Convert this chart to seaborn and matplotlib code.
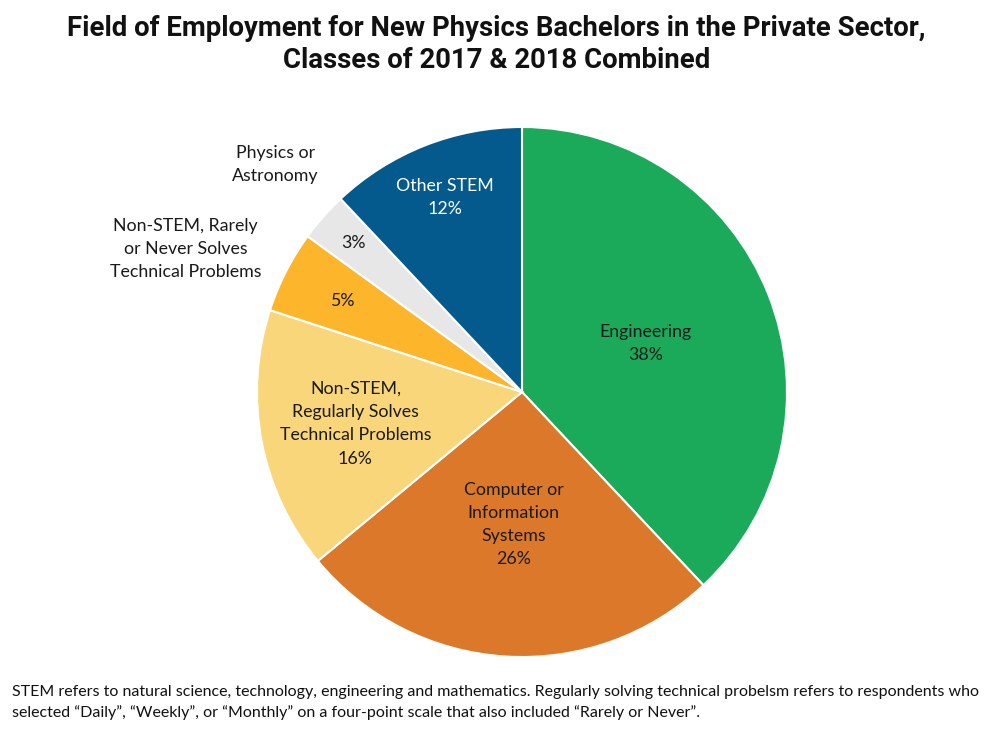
import numpy as np
import pandas as pd
import matplotlib.pyplot as plt
import seaborn as sns

sns.set_theme(style="white")
plt.rcParams['font.family'] = ['Lato', 'DejaVu Sans']

categories = ["Engineering", "Computer or\nInformation\nSystems",
              "Non-STEM,\nRegularly Solves\nTechnical Problems",
              "Non-STEM, Rarely\nor Never Solves\nTechnical Problems",
              "Physics or\nAstronomy", "Other STEM"]
shares = [38, 26, 16, 5, 3, 12]
colors = ["#1aaa5a", "#dc782a", "#fad67a", "#fdb52b", "#e6e7e6", "#045a8d"]
text_colors = ["#1a1a1a", "#1a1a1a", "#1a1a1a", "#1a1a1a", "#1a1a1a", "#ffffff"]
inside_r = [0.50, 0.50, 0.64, 0.76, 0.85, 0.79]
inside_label = [True, True, True, False, False, True]

df = pd.DataFrame({"field": categories, "share": shares})

fig = plt.figure(figsize=(9.93, 7.34), dpi=100)
W, H = 993, 734
cx, cy, R = 522, 392, 265
ax = fig.add_axes([(cx - R) / W, (H - cy - R) / H, 2 * R / W, 2 * R / H])

wedges, _ = ax.pie(df["share"], colors=colors, startangle=90, counterclock=False,
                   radius=1, wedgeprops=dict(edgecolor="white", linewidth=1.5))
ax.set_xlim(-1, 1)
ax.set_ylim(-1, 1)
ax.set_aspect("equal")
ax.axis("off")

lbl = dict(ha="center", va="center", fontsize=12.8, linespacing=1.55)
for i, w in enumerate(wedges):
    ang = np.deg2rad((w.theta1 + w.theta2) / 2)
    x, y = inside_r[i] * np.cos(ang), inside_r[i] * np.sin(ang)
    txt = f"{df['share'][i]}%"
    if inside_label[i]:
        txt = df["field"][i] + "\n" + txt
    ax.text(x, y, txt, color=text_colors[i], **lbl)

# outside labels for the two thin slices
ax.text(-0.93, 0.86, categories[4], color="#1a1a1a", **lbl)
ax.text(-1.27, 0.54, categories[3], color="#1a1a1a", **lbl)

title_font = dict(ha="center", va="center", fontsize=19.8, fontweight="bold",
                  family=["Roboto", "DejaVu Sans"], color="#111111")
fig.text(0.5, 1 - 28 / H, "Field of Employment for New Physics Bachelors in the Private Sector,",
         **title_font)
fig.text(0.5, 1 - 60 / H, "Classes of 2017 & 2018 Combined", **title_font)

note = dict(ha="left", va="center", fontsize=11.5, color="#111111")
fig.text(12 / W, 1 - 692 / H,
         "STEM refers to natural science, technology, engineering and mathematics. "
         "Regularly solving technical probelsm refers to respondents who", **note)
fig.text(12 / W, 1 - 713 / H,
         "selected \u201cDaily\u201d, \u201cWeekly\u201d, or \u201cMonthly\u201d on a four-point "
         "scale that also included \u201cRarely or Never\u201d.", **note)

fig.savefig("out.png", dpi=100)
